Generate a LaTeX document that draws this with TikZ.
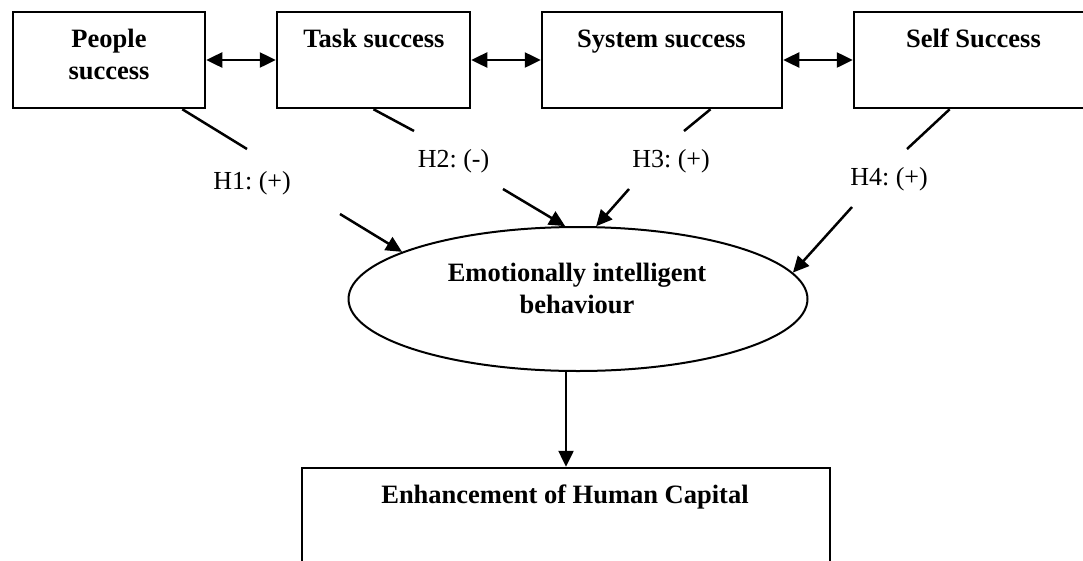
\documentclass[tikz,border=0pt]{standalone}
\usepackage{fontspec}
\setmainfont{Liberation Serif}
\usetikzlibrary{arrows.meta,shapes.geometric,calc}
\frenchspacing
\begin{document}
\begin{tikzpicture}[x=1pt,y=-1pt,
  box/.style={draw, line width=2.5pt, inner sep=0pt, minimum height=96pt},
  lbl/.style={font=\fontsize{26}{32}\selectfont, anchor=base, inner sep=0pt},
  blbl/.style={font=\fontsize{26.5}{32}\selectfont\bfseries, anchor=base, inner sep=0pt},
  conn/.style={line width=2.5pt},
  arr/.style={line width=2.5pt, -{Triangle[length=16pt,width=15pt]}},
  darr/.style={line width=2.5pt, {Triangle[length=16pt,width=15pt]}-{Triangle[length=16pt,width=15pt]}}]
\useasboundingbox (0,0) rectangle (1083,560);
\clip (0,0) rectangle (1083,560);
% top boxes
\node[box, minimum width=192pt] (people) at (109,60) {};
\node[box, minimum width=193pt] (task) at (373.5,60) {};
\node[box, minimum width=240pt] (system) at (662,60) {};
\node[box, minimum width=238pt] (self) at (973,60) {};
\node[blbl] (tp1) at (109,47) {People};
\node[blbl] (tp2) at (109,79) {success};
\node[blbl] (tt) at (374,47) {Task success};
\node[blbl] (ts) at (661.5,47) {System success};
\node[blbl] (tf) at (973.5,47) {Self Success};
% ellipse
\node[draw, ellipse, line width=2pt, inner sep=0pt, minimum width=459pt, minimum height=144pt] (eib) at (578,299) {};
\node[blbl] (te1) at (577,281) {Emotionally intelligent};
\node[blbl] (te2) at (577,313) {behaviour};
% bottom box
\node[box, minimum width=528pt, minimum height=102pt] (hc) at (566,519) {};
\node[blbl] (th) at (565,503) {Enhancement of Human Capital};
% horizontal double arrows
\draw[darr] (people.east) -- (task.west);
\draw[darr] (task.east) -- (system.west);
\draw[darr] (system.east) -- (self.west);
% hypothesis labels
\node[lbl] (h1) at (252,189) {H1: (+)};
\node[lbl] (h2) at (453.5,167) {H2: (-)};
\node[lbl] (h3) at (671,167) {H3: (+)};
\node[lbl] (h4) at (889,185) {H4: (+)};
% hypothesis connectors
\coordinate (h1a) at (247,149); \coordinate (h1b) at (340,214);
\coordinate (h2a) at (414,131); \coordinate (h2b) at (503,189);
\coordinate (h3a) at (684,131); \coordinate (h3b) at (629,189);
\coordinate (h4a) at (907,149); \coordinate (h4b) at (852,207);
\draw[conn] ($(people.south west)!0.877!(people.south east)$) -- (h1a);
\draw[arr] (h1b) -- (eib.165);
\draw[conn] (task.south) -- (h2a);
\draw[arr] (h2b) -- (eib.100);
\draw[conn] ($(system.south west)!0.7!(system.south east)$) -- (h3a);
\draw[arr] (h3b) -- (eib.76);
\draw[conn] ($(self.south west)!0.403!(self.south east)$) -- (h4a);
\draw[arr] (h4b) -- (eib.7);
% down arrow
\draw[arr] (eib.south -| hc.north) -- (hc.north);
\end{tikzpicture}
\end{document}
